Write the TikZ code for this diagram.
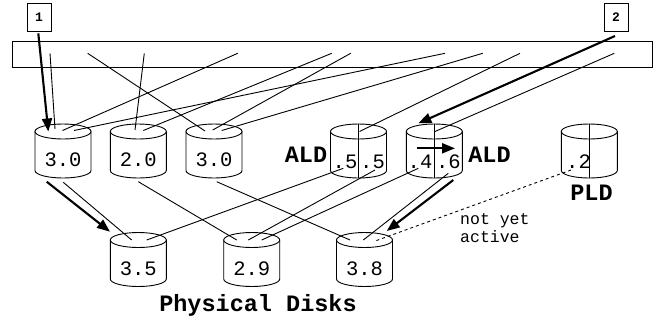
\documentclass[tikz,border=0pt]{standalone}
\usepackage{fontspec}
\setmonofont{Liberation Mono}
\usetikzlibrary{arrows.meta,calc}
\newcommand\drawcyl[3]{%
  \coordinate (#1) at (#2,-#3);
  \filldraw[cylline,fill=white] ($(#1)+(-28,0)$) -- ++(0,-39)
     arc[start angle=180,end angle=360,x radius=28,y radius=7.5] -- ($(#1)+(28,0)$) -- cycle;
  \filldraw[cylline,fill=white] (#1) ellipse[x radius=28,y radius=7.5];
}
\newcommand\cyldiv[1]{\draw[cylline] ($(#1)+(0,7.5)$) -- ($(#1)+(0,-46.5)$);}
\begin{document}
\begin{tikzpicture}[x=1bp,y=1bp,
  cylline/.style={line width=0.9bp},
  wire/.style={line width=0.9bp},
  bigarrow/.style={line width=2.1bp,-{Triangle[length=13bp,width=10bp]}},
  notyet/.style={line width=0.9bp,dash pattern=on 3bp off 3bp},
  disktext/.style={font=\fontsize{20.5bp}{22bp}\selectfont\ttfamily,anchor=base,inner sep=0},
  boldlabel/.style={font=\fontsize{23.5bp}{26bp}\selectfont\ttfamily\bfseries,anchor=base,inner sep=0},
  smalltext/.style={font=\fontsize{16.5bp}{18bp}\selectfont\ttfamily,anchor=base west,inner sep=0},
  numbox/.style={draw,line width=0.9bp,minimum width=24bp,minimum height=28bp,inner sep=0,
     font=\fontsize{13bp}{14bp}\selectfont\ttfamily\bfseries}
]
\useasboundingbox (0,0) rectangle (656,-321);

% bar
\node[draw,line width=0.9bp,anchor=north west,minimum width=640bp,minimum height=26bp,inner sep=0] (bar) at (12,-41) {};

% number boxes
\node[numbox] (box1) at (39,-17) {1};
\node[numbox] (box2) at (616,-17) {2};

% cylinders
\drawcyl{c1}{63}{131.5}
\drawcyl{c2}{138.3}{131.5}
\drawcyl{c3}{214}{131.5}
\drawcyl{a1}{358.5}{131.5}
\drawcyl{a2}{434.3}{131.5}
\drawcyl{p1}{589.3}{131.5}
\drawcyl{d1}{138.3}{240}
\drawcyl{d2}{251.7}{240}
\drawcyl{d3}{364.5}{240}
\cyldiv{a1}
\cyldiv{a2}
\cyldiv{p1}

% disk texts
\node[disktext] (t1) at (63,-166) {3.0};
\node[disktext] (t2) at (138.3,-166) {2.0};
\node[disktext] (t3) at (214,-166) {3.0};
\node[disktext] (t4) at (345,-168.3) {.5};
\node[disktext] (t5) at (372.5,-168.3) {.5};
\node[disktext] (t6) at (420,-168.3) {.4};
\node[disktext] (t7) at (448.3,-168.3) {.6};
\node[disktext] (t8) at (578.5,-168.3) {.2};
\node[disktext] (t9) at (138.3,-275) {3.5};
\node[disktext] (t10) at (251.7,-275) {2.9};
\node[disktext] (t11) at (364.5,-275) {3.8};

% labels
\node[boldlabel] (ald1) at (306,-162) {ALD};
\node[boldlabel] (ald2) at (489.5,-162) {ALD};
\node[boldlabel] (pld) at (591.5,-200) {PLD};
\node[boldlabel] (phys) at (258,-311) {Physical Disks};
\node[smalltext] (ny1) at (460,-224) {not yet};
\node[smalltext] (ny2) at (460,-242.5) {active};

% bar endpoints
\coordinate (b1) at (50,-53.3);
\coordinate (b2) at (87.7,-53.3);
\coordinate (b3) at (144.3,-53.3);
\coordinate (b4) at (237.7,-53.3);
\coordinate (b5) at (331.7,-53.3);
\coordinate (b6) at (350.7,-53.3);
\coordinate (b7) at (445,-53.3);
\coordinate (b8) at (482.7,-53.3);
\coordinate (b9) at (520,-53.3);
\coordinate (b10) at (614.3,-53.3);
% top-of-disk endpoints
\coordinate (e1) at (55,-129);
\coordinate (e2) at (205,-131);
\coordinate (e3) at (135,-130);
\coordinate (e4) at (62.5,-130.5);
\coordinate (e5) at (143.3,-130.5);
\coordinate (e6) at (212.7,-130);
\coordinate (e7) at (74,-130.5);
\coordinate (e8) at (221.7,-130.5);
\coordinate (e9) at (359.5,-131.5);
\coordinate (e10) at (435,-131.5);

\draw[wire] (b1) -- (e1);
\draw[wire] (b2) -- (e2);
\draw[wire] (b3) -- (e3);
\draw[wire] (b4) -- (e4);
\draw[wire] (b5) -- (e5);
\draw[wire] (b6) -- (e6);
\draw[wire] (b7) -- (e7);
\draw[wire] (b8) -- (e8);
\draw[wire] (b9) -- (e9);
\draw[wire] (b10) -- (e10);

% lower connectors
\coordinate (s1) at (63.3,-182.3);   \coordinate (f1) at (131.7,-240);
\coordinate (s2) at (138.3,-181.7);  \coordinate (f2) at (236.7,-240);
\coordinate (s3) at (216.7,-181.7);  \coordinate (f3) at (350,-240);
\coordinate (s4) at (343.3,-168.3);  \coordinate (f4) at (146.7,-240);
\coordinate (s5) at (375,-170);      \coordinate (f5) at (248.3,-240);
\coordinate (s6) at (418.3,-168.3);  \coordinate (f6) at (261.7,-240);
\coordinate (s7) at (448.3,-173.3);  \coordinate (f7) at (363.3,-240);
\coordinate (s8) at (571,-170);      \coordinate (f8) at (376,-240.7);
\draw[wire] (s1) -- (f1);
\draw[wire] (s2) -- (f2);
\draw[wire] (s3) -- (f3);
\draw[wire] (s4) -- (f4);
\draw[wire] (s5) -- (f5);
\draw[wire] (s6) -- (f6);
\draw[wire] (s7) -- (f7);
\draw[notyet] (s8) -- (f8);

% thick arrows
\coordinate (g1) at (38.3,-33.3);   \coordinate (h1) at (48.3,-131.5);
\coordinate (g2) at (615,-36);      \coordinate (h2) at (418.3,-123.3);
\coordinate (g3) at (46.7,-181.7);  \coordinate (h3) at (110,-231.7);
\coordinate (g4) at (453.3,-180);   \coordinate (h4) at (386.7,-231);
\coordinate (g5) at (416.7,-148.3); \coordinate (h5) at (455,-148.3);
\draw[bigarrow] (g1) -- (h1);
\draw[bigarrow] (g2) -- (h2);
\draw[bigarrow] (g3) -- (h3);
\draw[bigarrow] (g4) -- (h4);
\draw[bigarrow] (g5) -- (h5);
\end{tikzpicture}
\end{document}
